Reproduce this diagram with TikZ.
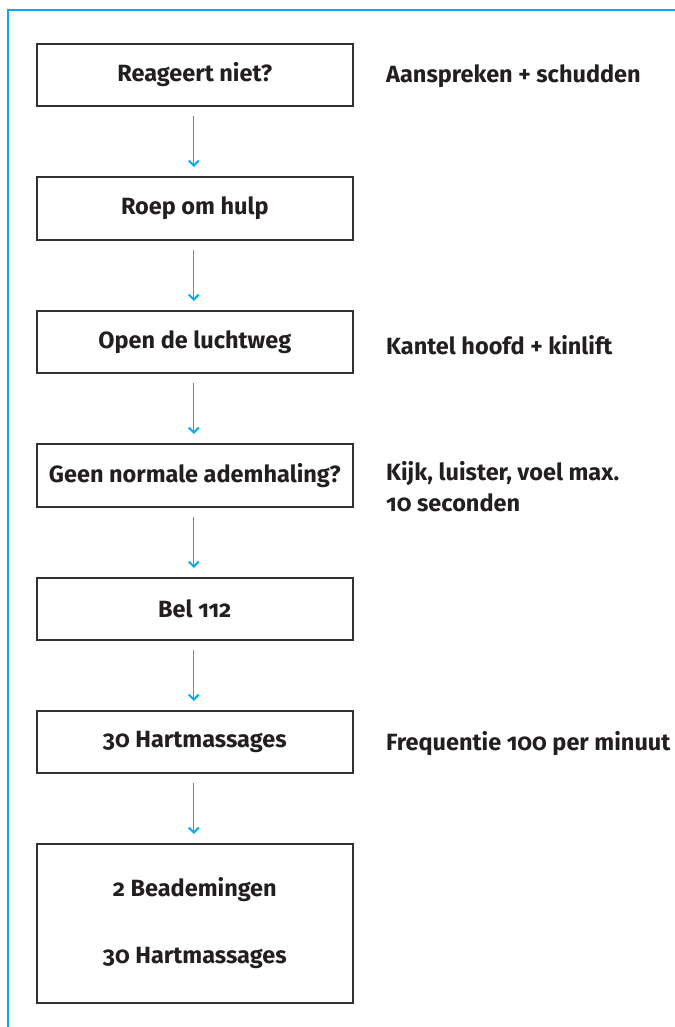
\documentclass[tikz,border=0pt]{standalone}
\usepackage{fontspec}
\setmainfont{Fira Sans}[RawFeature=+onum]
\usetikzlibrary{arrows.meta}
\definecolor{frameblue}{RGB}{0,174,239}
\definecolor{ink}{RGB}{35,31,32}
\definecolor{boxline}{RGB}{50,50,50}
\begin{document}
\begin{tikzpicture}[x=1pt,y=-1pt,
  stepbox/.style={draw=boxline,line width=1.6pt,minimum width=316pt,anchor=north west,inner sep=0pt,font=\fontsize{23.5}{26}\selectfont\bfseries,text=ink},
  sidelabel/.style={anchor=west,inner sep=0pt,font=\fontsize{23.5}{31}\selectfont\bfseries,text=ink,align=left},
  flow/.style={draw=frameblue,line width=1.2pt,-{Straight Barb[length=5pt,width=10pt,line width=2pt]}}]
\useasboundingbox (0,0) rectangle (674,1027);
\draw[frameblue,line width=1.3pt] (8,1030) coordinate (fl) -- (8,10) coordinate (fc) -- (680,10) coordinate (fr);
\node[stepbox,minimum height=62pt] (b1) at (36,43) {Reageert niet?};
\node[stepbox,minimum height=63pt] (b2) at (36,176) {Roep om hulp};
\node[stepbox,minimum height=62pt] (b3) at (36,310) {Open de luchtweg};
\node[stepbox,minimum height=63pt] (b4) at (36,443) {Geen normale ademhaling?};
\node[stepbox,minimum height=62pt] (b5) at (36,577) {Bel 112};
\node[stepbox,minimum height=62pt] (b6) at (36,710) {30 Hartmassages};
\node[stepbox,minimum height=159pt,align=center,font=\fontsize{23.5}{67}\selectfont\bfseries] (b7) at (36,843) {2 Beademingen\\30 Hartmassages};
\node[sidelabel] (l1) at (386,76) {Aanspreken + schudden};
\node[sidelabel] (l3) at (386,345) {Kantel hoofd + kinlift};
\node[sidelabel,anchor=north west] (l4) at (386,461) {Kijk, luister, voel max.\\10 seconden};
\node[sidelabel] (l6) at (386,744) {Frequentie 100 per minuut};
\foreach \a/\b in {b1/b2,b2/b3,b3/b4,b4/b5,b5/b6,b6/b7}{
  \draw[flow] ([xshift=-1pt,yshift=-9pt]\a.south) -- ([xshift=-1pt,yshift=9pt]\b.north);
}
\end{tikzpicture}
\end{document}
